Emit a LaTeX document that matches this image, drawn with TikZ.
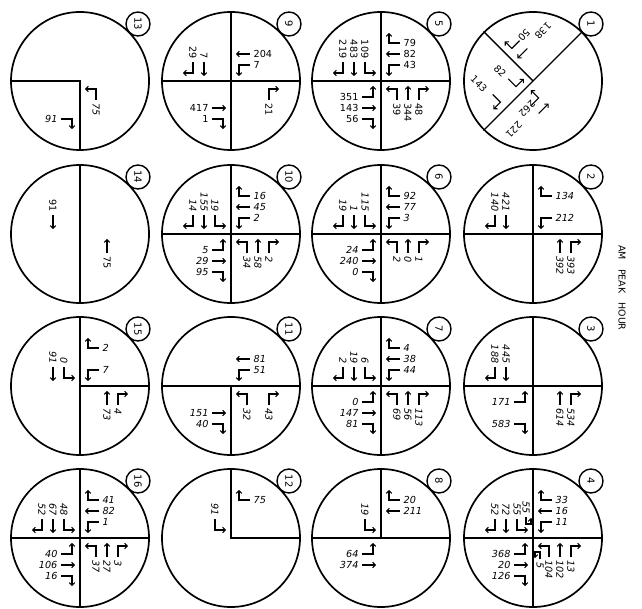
\documentclass[tikz,border=0pt]{standalone}
\usepackage{fontspec}
\usetikzlibrary{arrows.meta,calc}
\newfontfamily\numfont{DejaVu Sans}
\tikzset{
  ring/.style={draw, circle, minimum size=138bp, inner sep=0pt, line width=1.7bp},
  road/.style={line width=1.4bp},
  arr/.style={line width=1.1bp, -{Straight Barb[length=2.6bp,width=5.4bp,line width=1.1bp]}},
  num/.style={inner sep=0.4bp, font=\numfont\itshape\fontsize{9.7}{10}\selectfont},
  upnum/.style={num/.append style={font=\numfont\fontsize{9.7}{10}\selectfont}},
  tag/.style={draw, circle, minimum size=24bp, inner sep=0pt, line width=1.4bp,
    font=\numfont\fontsize{10}{11}\selectfont, rotate=-90},
}
\newcommand\AR[3]{\draw[arr,shift={(#1,#2)},rotate=#3] (19,-38) -- (8,-38) -- (8,-48);}
\newcommand\AT[3]{\draw[arr,shift={(#1,#2)},rotate=#3] (19,-27) -- (5,-27);}
\newcommand\AL[3]{\draw[arr,shift={(#1,#2)},rotate=#3] (19,-16) -- (8,-16) -- (8,-5);}
\newcommand\AU[3]{\draw[arr,shift={(#1,#2)},rotate=#3] (21,-7) -- (14,-7) -- (14,-2) -- (20,-2);}
\newcommand\NM[7]{\path[shift={(#1,#2)},rotate=#3] (22,#4) node[num,rotate=#5,anchor=#6] {#7};}
\newcommand\ifne[2]{\if\relax\detokenize{#1}\relax\else #2\fi}
\newcommand\App[8]{%
 \ifne{#6}{\AR{#1}{#2}{#3}\NM{#1}{#2}{#3}{-38}{#4}{#5}{#6}}%
 \ifne{#7}{\AT{#1}{#2}{#3}\NM{#1}{#2}{#3}{-27}{#4}{#5}{#7}}%
 \ifne{#8}{\AL{#1}{#2}{#3}\NM{#1}{#2}{#3}{-16}{#4}{#5}{#8}}}
\newcommand\WB[5]{\App{#1}{#2}{0}{0}{west}{#3}{#4}{#5}}
\newcommand\EB[5]{\App{#1}{#2}{180}{0}{east}{#3}{#4}{#5}}
\newcommand\SB[5]{\App{#1}{#2}{90}{-90}{east}{#3}{#4}{#5}}
\newcommand\NB[5]{\App{#1}{#2}{-90}{-90}{west}{#3}{#4}{#5}}
\begin{document}
\begin{tikzpicture}[x=1bp,y=-1bp]
\useasboundingbox (0,0) rectangle (642,609);
% circles
\node[ring] (C1) at (533,81) {};
\node[ring] (C2) at (533,234) {};
\node[ring] (C3) at (533,386) {};
\node[ring] (C4) at (533,538) {};
\node[ring] (C5) at (381,81) {};
\node[ring] (C6) at (381,234) {};
\node[ring] (C7) at (381,386) {};
\node[ring] (C8) at (381,538) {};
\node[ring] (C9) at (231,81) {};
\node[ring] (C10) at (231,234) {};
\node[ring] (C11) at (231,386) {};
\node[ring] (C12) at (231,538) {};
\node[ring] (C13) at (80,81) {};
\node[ring] (C14) at (80,234) {};
\node[ring] (C15) at (80,386) {};
\node[ring] (C16) at (80,538) {};
\foreach \i in {1,...,16}{
  \node[tag] (T\i) at ($(C\i.center)+(58,-57)$) {\i};
}
% roads
\draw[road] (C1.north east) -- (C1.south west) (C1.north west) -- (C1.center);
\foreach \i in {2,3,4,5,6,7,9,10,16}{
  \draw[road] (C\i.north) -- (C\i.south) (C\i.west) -- (C\i.east);
}
\draw[road] (C8.west) -- (C8.east) (C8.north) -- (C8.center);
\draw[road] (C11.west) -- (C11.east) (C11.center) -- (C11.south);
\draw[road] (C12.north) -- (C12.center) -- (C12.east);
\draw[road] (C13.west) -- (C13.center) -- (C13.south);
\draw[road] (C14.north) -- (C14.south);
\draw[road] (C15.north) -- (C15.south) (C15.center) -- (C15.east);
% title
\node[rotate=-90, font=\numfont\fontsize{9.5}{11}\selectfont] (title) at (622,288)
  {AM\hspace{9bp}PEAK\hspace{9bp}HOUR};
\begin{scope}[upnum]
% circle 1
\AR{533}{81}{45}\AT{533}{81}{45}
\node[num,rotate=-135] (n1a) at (543,31) {138};
\node[num,rotate=-135] (n1b) at (524,35) {50};
\AR{533}{81}{135}\AL{533}{81}{135}
\node[num,rotate=-45] (n1c) at (500,71) {82};
\node[num,rotate=-45] (n1d) at (479,84) {143};
\AT{533}{81}{-135}\AL{533}{81}{-135}
\node[num,rotate=-135] (n1e) at (527,109) {262};
\node[num,rotate=-135] (n1f) at (514,130) {221};
% circle 5
\WB{381}{81}{79}{82}{43}
\SB{381}{81}{219}{483}{109}
\EB{381}{81}{56}{143}{351}
\NB{381}{81}{48}{344}{39}
% circle 9
\WB{231}{81}{}{204}{7}
\SB{231}{81}{29}{7}{}
\EB{231}{81}{1}{417}{}
\NB{231}{81}{21}{}{}
% circle 14
\SB{80}{234}{}{91}{}
\NB{80}{234}{}{75}{}
\end{scope}
% circle 13
\NB{80}{81}{}{}{75}
\EB{80}{81}{91}{}{}
% circle 2
\WB{533}{234}{134}{}{212}
\SB{533}{234}{140}{421}{}
\NB{533}{234}{393}{392}{}
% circle 6
\WB{381}{234}{92}{77}{3}
\SB{381}{234}{19}{1}{115}
\EB{381}{234}{0}{240}{24}
\NB{381}{234}{1}{0}{2}
% circle 10
\WB{231}{234}{16}{45}{2}
\SB{231}{234}{14}{155}{19}
\EB{231}{234}{95}{29}{5}
\NB{231}{234}{2}{58}{34}
% circle 3
\SB{533}{386}{188}{445}{}
\EB{533}{386}{583}{}{171}
\NB{533}{386}{534}{614}{}
% circle 7
\WB{381}{386}{4}{38}{44}
\SB{381}{386}{2}{19}{6}
\EB{381}{386}{81}{147}{0}
\NB{381}{386}{113}{56}{69}
% circle 11
\WB{231}{386}{}{81}{51}
\EB{231}{386}{40}{151}{}
\NB{231}{386}{43}{}{32}
% circle 15
\WB{80}{386}{2}{}{7}
\SB{80}{386}{}{91}{0}
\NB{80}{386}{4}{73}{}
% circle 4
\WB{533}{538}{33}{16}{11}
\SB{533}{538}{52}{72}{55}
\EB{533}{538}{126}{20}{368}
\NB{533}{538}{13}{102}{104}
\AU{533}{538}{-90}
\node[num,rotate=-90,anchor=west] (u4a) at (540,562) {5};
\AU{533}{538}{90}
\node[num,rotate=-90,anchor=east] (u4b) at (526,514) {55};
% circle 8
\WB{381}{538}{20}{211}{}
\SB{381}{538}{}{}{19}
\EB{381}{538}{}{374}{64}
% circle 12
\WB{231}{538}{75}{}{}
\SB{231}{538}{}{}{91}
% circle 16
\WB{80}{538}{41}{82}{1}
\SB{80}{538}{52}{67}{48}
\EB{80}{538}{16}{106}{40}
\NB{80}{538}{3}{27}{37}
\end{tikzpicture}
\end{document}
